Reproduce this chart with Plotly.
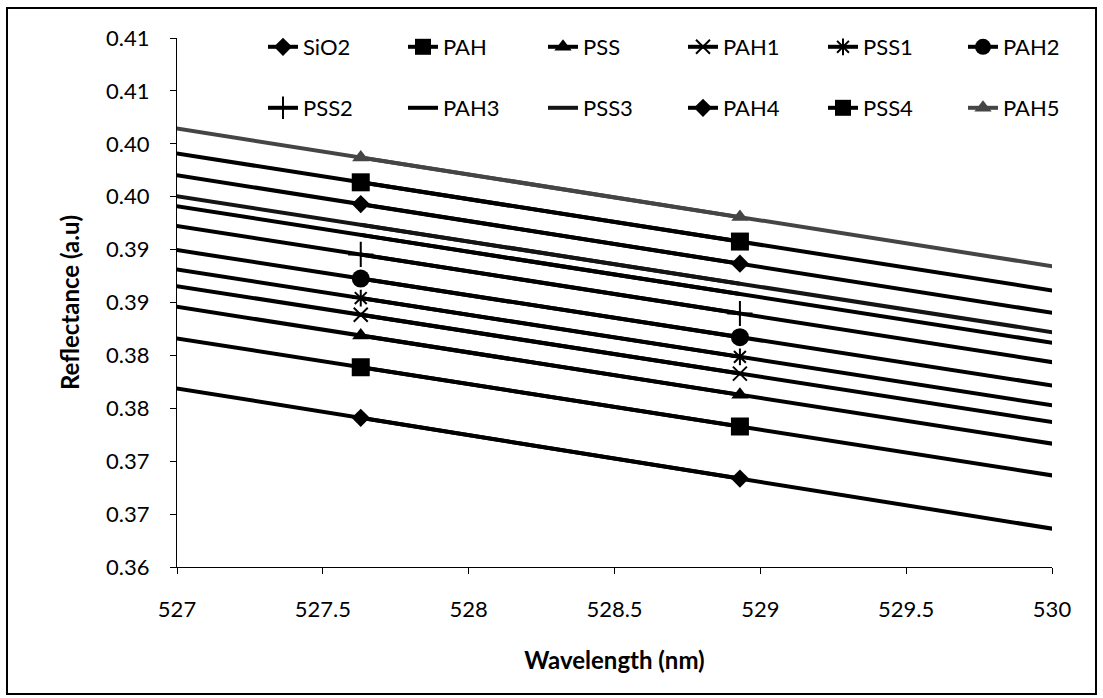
import plotly.graph_objects as go

# ---------------- data ----------------
wavelength = [526.33, 527.63, 528.93, 530.23]

series_names = ["SiO2", "PAH", "PSS", "PAH1", "PSS1", "PAH2",
                "PSS2", "PAH3", "PSS3", "PAH4", "PSS4", "PAH5"]

sio2 = [0.37984, 0.37410, 0.36836, 0.36261]
pah = [0.38449, 0.37888, 0.37328, 0.36767]
pss = [0.38748, 0.38188, 0.37627, 0.37067]
pah1 = [0.38941, 0.38384, 0.37828, 0.37272]
pss1 = [0.39099, 0.38542, 0.37986, 0.37430]
pah2 = [0.39281, 0.38726, 0.38172, 0.37618]
pss2 = [0.39511, 0.38954, 0.38396, 0.37838]
pah3 = [0.39698, 0.39139, 0.38580, 0.38021]
pss3 = [0.39792, 0.39235, 0.38678, 0.38121]
pah4 = [0.39993, 0.39430, 0.38867, 0.38303]
pss4 = [0.40197, 0.39636, 0.39076, 0.38515]
pah5 = [0.40435, 0.39871, 0.39307, 0.38743]

y_tick_values = [0.360, 0.365, 0.370, 0.375, 0.380, 0.385,
                 0.390, 0.395, 0.400, 0.405, 0.410]
y_tick_labels = ["0.36", "0.37", "0.37", "0.38", "0.38", "0.39",
                 "0.39", "0.40", "0.40", "0.41", "0.41"]
x_tick_values = [527, 527.5, 528, 528.5, 529, 529.5, 530]
x_tick_labels = ["527", "527.5", "528", "528.5", "529", "529.5", "530"]

all_series = [sio2, pah, pss, pah1, pss1, pah2,
              pss2, pah3, pss3, pah4, pss4, pah5]

# ---------------- styles ----------------
FONT = "Lato, 'Open Sans', sans-serif"
symbols = ["diamond", "square", "triangle-up", "x-thin-open", "asterisk-open", "circle",
           "cross-thin-open", None, None, "diamond", "square", "triangle-up"]
sizes = [14, 18, 15, 14, 14, 18, 18, 0, 0, 14, 18, 15]
colors = ["#000000"] * 12
colors[8] = "#151515"
colors[11] = "#454545"
LW = 4
# legend groups: row 1 left/right, row 2 left/right
legend_ids = ["legend"] * 3 + ["legend2"] * 3 + ["legend3"] * 3 + ["legend4"] * 3

fig = go.Figure()

for i, (name, vals) in enumerate(zip(series_names, all_series)):
    col = colors[i]
    # full-length line (clipped by the axis range)
    fig.add_trace(go.Scatter(
        x=wavelength, y=vals, mode="lines", name=name,
        line=dict(color=col, width=LW),
        legendgroup=name, showlegend=False, hoverinfo="skip",
    ))
    # measured points with markers (legend entry)
    if symbols[i] is None:
        fig.add_trace(go.Scatter(
            x=wavelength[1:3], y=vals[1:3], mode="lines", name=name,
            line=dict(color=col, width=LW),
            legendgroup=name, legend=legend_ids[i],
        ))
    else:
        open_sym = symbols[i].endswith("open")
        fig.add_trace(go.Scatter(
            x=wavelength[1:3], y=vals[1:3], mode="lines+markers", name=name,
            line=dict(color=col, width=LW),
            marker=dict(symbol=symbols[i], size=sizes[i], color=col,
                        line=dict(color=col, width=2 if open_sym else 0)),
            legendgroup=name, legend=legend_ids[i],
        ))

legend_common = dict(
    orientation="h", xanchor="left", yanchor="middle",
    font=dict(family=FONT, size=22, color="#000"),
    bgcolor="rgba(0,0,0,0)", entrywidth=95, entrywidthmode="pixels",
    itemclick=False, itemdoubleclick=False,
)

L_PX, T_PX, R_PX, B_PX = 177, 38, 1052, 567
PW, PH = R_PX - L_PX, B_PX - T_PX


def px_x(px):
    return (px - L_PX) / PW


def px_y(py):
    return (B_PX - py) / PH


fig.update_layout(
    width=1103, height=698,
    margin=dict(l=L_PX, r=1103 - R_PX, t=T_PX, b=698 - B_PX, autoexpand=False),
    paper_bgcolor="white", plot_bgcolor="white",
    font=dict(family=FONT, size=22, color="#000"),
    showlegend=True,
    legend=dict(x=px_x(263), y=px_y(47), **legend_common),
    legend2=dict(x=px_x(683), y=px_y(47), **legend_common),
    legend3=dict(x=px_x(263), y=px_y(108), **legend_common),
    legend4=dict(x=px_x(683), y=px_y(108), **legend_common),
    xaxis=dict(
        range=[527, 530], tickvals=x_tick_values, ticktext=x_tick_labels,
        showline=True, linecolor="#000", linewidth=1.2,
        ticks="outside", ticklen=6, tickcolor="#000", tickwidth=1.2,
        ticklabelstandoff=16,
        showgrid=False, zeroline=False,
        tickfont=dict(family=FONT, size=22, color="#000"),
        title=dict(text="<b>Wavelength (nm)</b>", standoff=31,
                   font=dict(family=FONT, size=24, color="#000")),
    ),
    yaxis=dict(
        range=[0.36, 0.41], tickvals=y_tick_values, ticktext=y_tick_labels,
        showline=True, linecolor="#000", linewidth=1.2,
        ticks="outside", ticklen=6, tickcolor="#000", tickwidth=1.2,
        ticklabelstandoff=16,
        showgrid=False, zeroline=False,
        tickfont=dict(family=FONT, size=22, color="#000"),
        title=dict(text="<b>Reflectance (a.u)</b>", standoff=19,
                   font=dict(family=FONT, size=24, color="#000")),
    ),
    shapes=[dict(type="rect", xref="paper", yref="paper",
                 x0=px_x(7), x1=px_x(1096),
                 y0=px_y(694), y1=px_y(8),
                 line=dict(color="#000", width=2), fillcolor="rgba(0,0,0,0)",
                 layer="above")],
)

fig.write_html("out.html")
